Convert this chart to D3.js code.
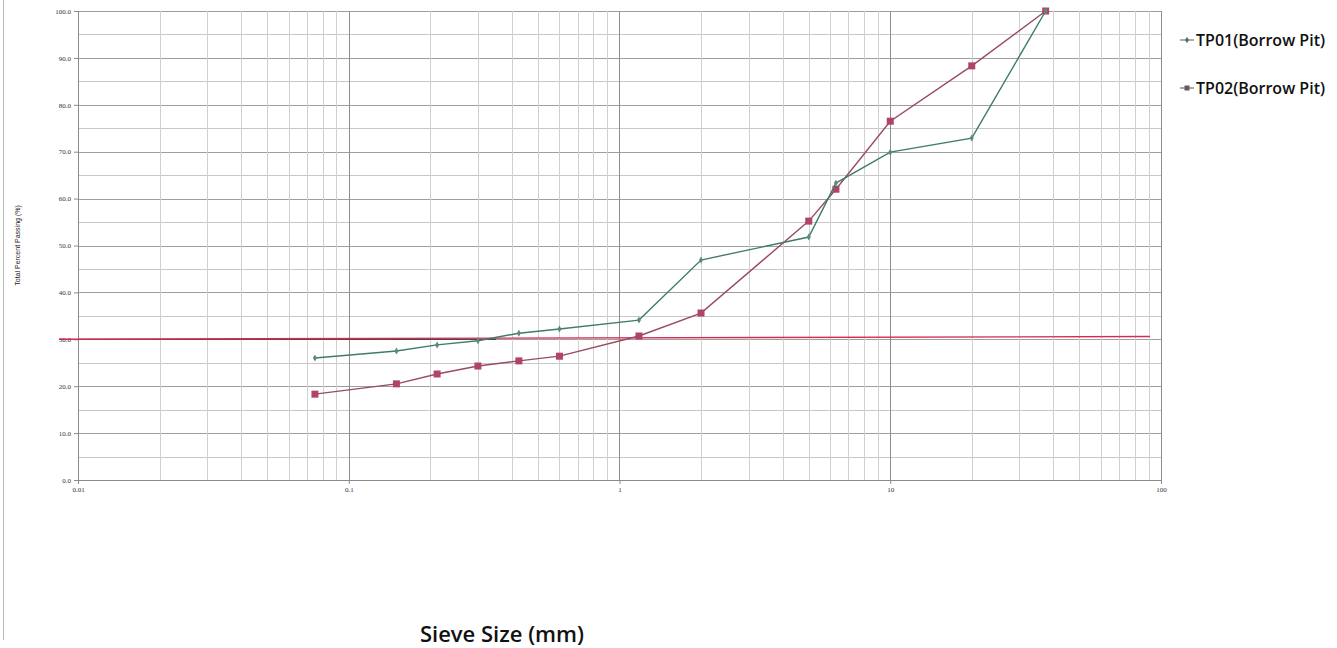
<!DOCTYPE html>
<html>
<head>
<meta charset="utf-8">
<title>Particle size distribution</title>
<script src="https://cdnjs.cloudflare.com/ajax/libs/d3/7.8.5/d3.min.js"></script>
<style>
  body { margin: 0; background: #fff; }
  svg { display: block; }
</style>
</head>
<body>
<div id="chart"></div>
<script>
// sieve sizes (mm) and percent passing
var sieves = [0.075, 0.15, 0.212, 0.3, 0.425, 0.6, 1.18, 2, 5, 6.3, 10, 20, 37.5];
var tp01 = [26.0, 27.5, 28.8, 29.7, 31.3, 32.2, 34.1, 46.9, 51.8, 63.3, 69.9, 72.9, 100];
var tp02 = [18.3, 20.5, 22.6, 24.3, 25.4, 26.4, 30.7, 35.6, 55.2, 62.0, 76.5, 88.3, 100];
var seriesNames = ["TP01(Borrow Pit)", "TP02(Borrow Pit)"];
var refLineX = [0.0085, 91];
var refLineY = [30.0, 30.6];
var xTicks = [0.01, 0.1, 1, 10, 100];
var yTicks = [0, 10, 20, 30, 40, 50, 60, 70, 80, 90, 100];

var width = 1337, height = 648;
var margin = {left: 78, right: 176, top: 11, bottom: 168};

var x = d3.scaleLog().domain([0.01, 100]).range([margin.left, width - margin.right]);
var y = d3.scaleLinear().domain([0, 100]).range([height - margin.bottom, margin.top]);

var svg = d3.select("#chart").append("svg")
    .attr("width", width)
    .attr("height", height);

// frame edge on the left
svg.append("line")
    .attr("x1", 3.5).attr("x2", 3.5)
    .attr("y1", 0).attr("y2", 640)
    .attr("stroke", "#b8b8b8");

// horizontal grid, every 5
var g = svg.append("g");
d3.range(5, 101, 5).forEach(function(v) {
    g.append("line")
        .attr("x1", x(0.01)).attr("x2", x(100))
        .attr("y1", Math.round(y(v)) + 0.5).attr("y2", Math.round(y(v)) + 0.5)
        .attr("stroke", v % 10 === 0 ? "#9e9e9e" : "#c8c8c8")
        .attr("stroke-width", 1);
});

// vertical grid on log ticks
var minors = [];
[0.01, 0.1, 1, 10].forEach(function(d) {
    for (var k = 2; k <= 9; k++) minors.push(d * k);
});
minors.forEach(function(v) {
    g.append("line")
        .attr("x1", Math.round(x(v)) + 0.5).attr("x2", Math.round(x(v)) + 0.5)
        .attr("y1", y(100)).attr("y2", y(0))
        .attr("stroke", "#d0d0d0");
});
xTicks.forEach(function(v) {
    g.append("line")
        .attr("x1", Math.round(x(v)) + 0.5).attr("x2", Math.round(x(v)) + 0.5)
        .attr("y1", y(100)).attr("y2", y(0))
        .attr("stroke", "#8e8e8e");
});

// axes
var yAxis = d3.axisLeft(y).tickValues(yTicks).tickSize(4).tickFormat(d3.format(".1f"));
var xAxis = d3.axisBottom(x).tickValues(xTicks).tickSize(4).tickFormat(function(d) { return d; });

var ya = svg.append("g").attr("transform", "translate(" + x(0.01) + ",0)").call(yAxis);
var xa = svg.append("g").attr("transform", "translate(0," + y(0) + ")").call(xAxis);
[ya, xa].forEach(function(a) {
    a.select(".domain").attr("stroke", "#8a8a8a");
    a.selectAll(".tick line").attr("stroke", "#8a8a8a");
    a.selectAll("text")
        .attr("font-family", "Liberation Serif")
        .attr("font-size", 7)
        .attr("fill", "#333");
});

// 30% reference line
svg.append("line")
    .attr("x1", x(0.01)).attr("x2", x(0.35))
    .attr("y1", y(30)).attr("y2", y(30))
    .attr("stroke", "#333").attr("stroke-width", 1);
svg.append("line")
    .attr("x1", x(refLineX[0])).attr("x2", x(refLineX[1]))
    .attr("y1", y(refLineY[0])).attr("y2", y(refLineY[1]))
    .attr("stroke", "#d42a55").attr("stroke-width", 1.4);

var line = d3.line()
    .x(function(d) { return x(d[0]); })
    .y(function(d) { return y(d[1]); });

var d1 = sieves.map(function(s, i) { return [s, tp01[i]]; });
var d2 = sieves.map(function(s, i) { return [s, tp02[i]]; });

svg.append("path").datum(d2)
    .attr("d", line)
    .attr("fill", "none")
    .attr("stroke", "#9a4a62")
    .attr("stroke-width", 1.4);
svg.selectAll(".m2").data(d2).enter().append("rect")
    .attr("class", "m2")
    .attr("x", function(d) { return x(d[0]) - 3.5; })
    .attr("y", function(d) { return y(d[1]) - 3.5; })
    .attr("width", 7).attr("height", 7)
    .attr("fill", "#b04466");

svg.append("path").datum(d1)
    .attr("d", line)
    .attr("fill", "none")
    .attr("stroke", "#3f7d68")
    .attr("stroke-width", 1.4);
svg.selectAll(".m1").data(d1).enter().append("path")
    .attr("class", "m1")
    .attr("transform", function(d) { return "translate(" + x(d[0]) + "," + y(d[1]) + ")"; })
    .attr("d", d3.symbol().type(d3.symbolDiamond).size(14))
    .attr("fill", "#5a8a7a");

// axis titles
svg.append("text")
    .attr("transform", "translate(20," + y(50) + ") rotate(-90)")
    .attr("text-anchor", "middle")
    .attr("font-family", "Liberation Sans")
    .attr("font-size", 7)
    .attr("fill", "#222")
    .text("Total Percent Passing (%)");

svg.append("text")
    .attr("x", 502).attr("y", 642)
    .attr("text-anchor", "middle")
    .attr("font-family", "Open Sans")
    .attr("font-weight", 600)
    .attr("font-size", 22)
    .attr("fill", "#111")
    .text("Sieve Size (mm)");

// legend
var legend = svg.append("g").attr("transform", "translate(1180,40)");
seriesNames.forEach(function(name, i) {
    var row = legend.append("g").attr("transform", "translate(0," + i * 48 + ")");
    row.append("line")
        .attr("x1", 0).attr("x2", 14)
        .attr("y1", 0).attr("y2", 0)
        .attr("stroke", i === 0 ? "#6a7a74" : "#7a6a70")
        .attr("stroke-width", 1.2);
    if (i === 0) {
        row.append("path")
            .attr("transform", "translate(7,0)")
            .attr("d", d3.symbol().type(d3.symbolDiamond).size(12))
            .attr("fill", "#5a6a64");
    } else {
        row.append("rect")
            .attr("x", 4.5).attr("y", -2.5).attr("width", 5).attr("height", 5)
            .attr("fill", "#6a5a60");
    }
    row.append("text")
        .attr("x", 16).attr("y", 6)
        .attr("font-family", "Open Sans")
        .attr("font-weight", 600)
        .attr("font-size", 16)
        .attr("fill", "#111")
        .text(name);
});
</script>
</body>
</html>
